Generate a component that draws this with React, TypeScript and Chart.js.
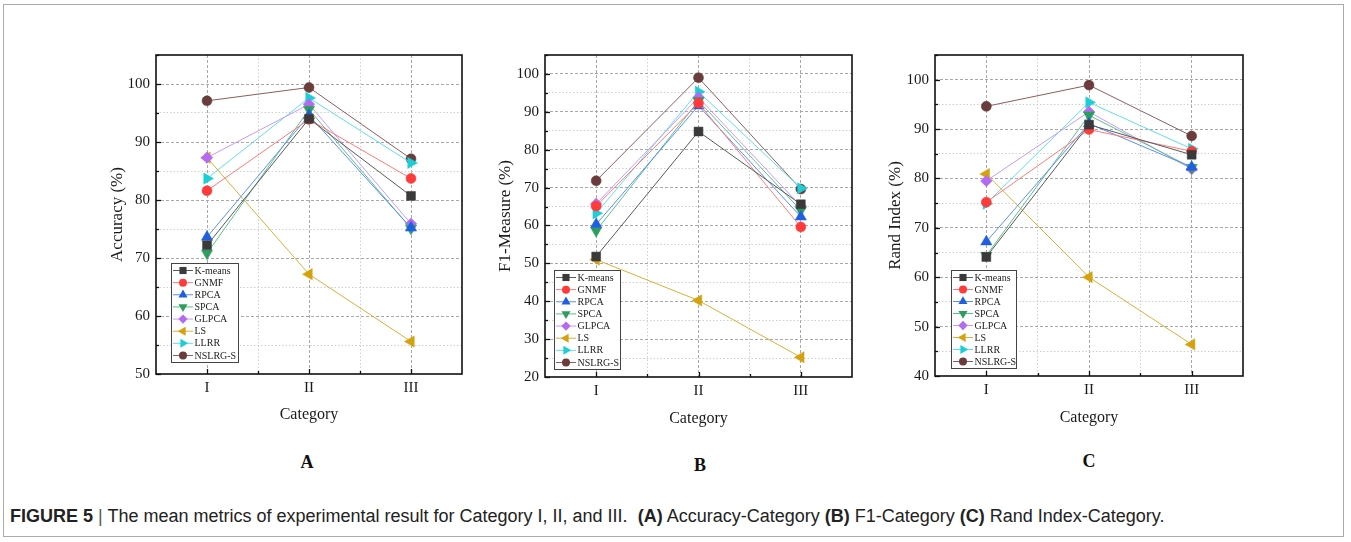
import React, { useEffect, useRef } from "react";
import { Chart, registerables } from "chart.js";
Chart.register(...registerables);

// ---------- data ----------
const categories = ["I", "II", "III"];
const methods = ["K-means", "GNMF", "RPCA", "SPCA", "GLPCA", "LS", "LLRR", "NSLRG-S"];

// rows follow `methods`, columns follow `categories`
const accuracyValues = [
  [72.2, 94.0, 80.7],
  [81.6, 93.9, 83.7],
  [73.6, 94.6, 75.2],
  [70.8, 95.6, 75.1],
  [87.3, 96.5, 75.9],
  [87.3, 67.2, 55.6],
  [83.7, 97.6, 86.4],
  [97.1, 99.4, 87.1],
];
const f1Values = [
  [51.8, 84.8, 65.6],
  [65.1, 92.3, 59.6],
  [60.3, 91.6, 62.3],
  [58.6, 92.9, 64.0],
  [65.7, 93.8, 65.1],
  [51.0, 40.2, 25.2],
  [63.2, 95.3, 69.8],
  [71.8, 99.0, 69.6],
];
const randValues = [
  [64.1, 90.9, 84.8],
  [75.2, 89.9, 85.5],
  [67.2, 91.1, 82.3],
  [64.4, 92.8, 82.2],
  [79.5, 93.5, 81.9],
  [80.9, 60.0, 46.4],
  [74.9, 95.4, 86.0],
  [94.6, 98.9, 88.6],
];

const accuracyTicks = [50, 60, 70, 80, 90, 100];
const f1Ticks = [20, 30, 40, 50, 60, 70, 80, 90, 100];
const randTicks = [40, 50, 60, 70, 80, 90, 100];

// ---------- styles ----------
const markerColors = ["#3a3a3a", "#ff3a3a", "#1f5fe0", "#2e9e5e", "#b36bf0", "#d4a20c", "#1ccfd6", "#6a3c3c"];
const lineColors = ["#5a5a5a", "#ff7a7a", "#5b8ff0", "#5cc08a", "#c89af5", "#d9b038", "#5fe0e6", "#8a5e5e"];
const markerShapes = ["rect", "circle", "triangle", "triangle", "rectRot", "triangle", "triangle", "circle"];
const markerRotations = [0, 0, 0, 180, 0, 270, 90, 0];
const markerRadii = [6.3, 5, 6.5, 6.5, 5.8, 6.5, 6.5, 5];

const SERIF = '"Liberation Serif", "Times New Roman", serif';

function drawMarker(ctx: CanvasRenderingContext2D, shape: string, rot: number, r: number, x: number, y: number) {
  ctx.beginPath();
  if (shape === "circle") {
    ctx.arc(x, y, r, 0, Math.PI * 2);
  } else if (shape === "rect") {
    const s = Math.SQRT1_2 * r;
    ctx.rect(x - s, y - s, 2 * s, 2 * s);
  } else if (shape === "rectRot") {
    ctx.moveTo(x, y - r);
    ctx.lineTo(x + r, y);
    ctx.lineTo(x, y + r);
    ctx.lineTo(x - r, y);
    ctx.closePath();
  } else {
    const base = (rot * Math.PI) / 180;
    for (let k = 0; k < 3; k++) {
      const a = base + (k * 2 * Math.PI) / 3;
      const px = x + Math.sin(a) * r;
      const py = y - Math.cos(a) * r;
      if (k === 0) ctx.moveTo(px, py);
      else ctx.lineTo(px, py);
    }
    ctx.closePath();
  }
  ctx.fill();
}

const frameTicksPlugin = {
  id: "frameTicks",
  afterDatasetsDraw(chart: any) {
    const { ctx, chartArea } = chart;
    const ys = chart.scales.y;
    const xs = chart.scales.x;
    ctx.save();
    ctx.strokeStyle = "#111";
    ctx.lineWidth = 1.3;
    for (let v = ys.min; v <= ys.max; v += 5) {
      const py = Math.round(ys.getPixelForValue(v)) + 0.5;
      const len = v % 10 === 0 ? 5 : 3;
      ctx.beginPath();
      ctx.moveTo(chartArea.left, py);
      ctx.lineTo(chartArea.left + len, py);
      ctx.stroke();
    }
    for (let v = 1; v <= 3; v += 0.5) {
      const px = Math.round(xs.getPixelForValue(v)) + 0.5;
      const len = Number.isInteger(v) ? 5 : 3;
      ctx.beginPath();
      ctx.moveTo(px, chartArea.bottom);
      ctx.lineTo(px, chartArea.bottom - len);
      ctx.stroke();
    }
    ctx.lineWidth = 1.6;
    ctx.strokeRect(chartArea.left, chartArea.top, chartArea.right - chartArea.left, chartArea.bottom - chartArea.top);
    ctx.restore();
  },
};

const insideLegendPlugin = {
  id: "insideLegend",
  afterDraw(chart: any, _args: any, opts: any) {
    const { ctx, chartArea } = chart;
    const x0 = Math.round(chartArea.left + opts.dx) + 0.5;
    const y0 = Math.round(chartArea.bottom - opts.dy - opts.height) + 0.5;
    ctx.save();
    ctx.fillStyle = "#fff";
    ctx.fillRect(x0, y0, opts.width, opts.height);
    ctx.strokeStyle = "#444";
    ctx.lineWidth = 1;
    ctx.strokeRect(x0, y0, opts.width, opts.height);
    ctx.font = `${opts.fontSize}px ${SERIF}`;
    ctx.textBaseline = "middle";
    chart.data.datasets.forEach((ds: any, i: number) => {
      const cy = y0 + 7 + i * opts.spacing;
      ctx.strokeStyle = ds.borderColor;
      ctx.lineWidth = 1;
      ctx.beginPath();
      ctx.moveTo(x0 + 1.5, cy);
      ctx.lineTo(x0 + 21.5, cy);
      ctx.stroke();
      ctx.fillStyle = markerColors[i];
      drawMarker(ctx, markerShapes[i], markerRotations[i], markerRadii[i] * 0.8, x0 + 11.5, cy);
      ctx.fillStyle = "#222";
      ctx.fillText(ds.label, x0 + 23, cy + 0.5);
    });
    ctx.restore();
  },
};

type PanelCfg = {
  left: number;
  top: number;
  width: number;
  height: number;
  yAxisWidth: number;
  padTop: number;
  padRight: number;
  xAxisHeight: number;
  yMin: number;
  yTicks: number[];
  values: number[][];
  yTitle: string;
  yTitlePad: number;
  xTitlePad: number;
  legend: { dx: number; dy: number; width: number; height: number; fontSize: number; spacing: number };
};

function Panel({ cfg }: { cfg: PanelCfg }) {
  const ref = useRef<HTMLCanvasElement | null>(null);
  useEffect(() => {
    if (!ref.current) return;
    const datasets = methods.map((m, i) => ({
      label: m,
      data: cfg.values[i].map((v, j) => ({ x: j + 1, y: v })),
      borderColor: lineColors[i],
      borderWidth: 1,
      pointStyle: markerShapes[i] as any,
      pointRotation: markerRotations[i],
      pointRadius: markerRadii[i],
      pointBackgroundColor: markerColors[i],
      pointBorderColor: markerColors[i],
      pointBorderWidth: 0.5,
      showLine: true,
      tension: 0,
      fill: false,
    }));
    const chart = new Chart(ref.current, {
      type: "line",
      data: { datasets },
      options: {
        animation: false,
        responsive: false,
        events: [],
        layout: { padding: { top: cfg.padTop, right: cfg.padRight, left: 0, bottom: 0 } },
        plugins: {
          legend: { display: false },
          tooltip: { enabled: false },
          insideLegend: cfg.legend,
        } as any,
        scales: {
          x: {
            type: "linear",
            min: 0.5,
            max: 3.5,
            afterFit: (s: any) => {
              s.height = cfg.xAxisHeight;
            },
            ticks: {
              stepSize: 0.5,
              autoSkip: false,
              maxRotation: 0,
              padding: 5,
              color: "#1a1a1a",
              font: { family: SERIF, size: 15 },
              callback: (v: any) => (Number.isInteger(v) ? categories[v - 1] : ""),
            },
            grid: {
              drawTicks: false,
              lineWidth: 1,
              color: (c: any) => {
                const v = c.tick?.value;
                if (v === 0.5 || v === 3.5) return "rgba(0,0,0,0)";
                return Number.isInteger(v) ? "#a8a8a8" : "#cfcfcf";
              },
            },
            border: {
              display: false,
              dash: (c: any) => (Number.isInteger(c.tick?.value) ? [3, 2] : [1.5, 2]),
            } as any,
            title: {
              display: true,
              text: "Category",
              color: "#1a1a1a",
              font: { family: SERIF, size: 16 },
              padding: { top: 0, bottom: cfg.xTitlePad },
            },
          },
          y: {
            type: "linear",
            min: cfg.yMin,
            max: 105,
            afterFit: (s: any) => {
              s.width = cfg.yAxisWidth;
            },
            ticks: {
              stepSize: 5,
              autoSkip: false,
              padding: 6,
              color: "#1a1a1a",
              font: { family: SERIF, size: 15 },
              callback: (v: any) => (cfg.yTicks.includes(v) ? String(v) : ""),
            },
            grid: {
              drawTicks: false,
              lineWidth: 1,
              color: (c: any) => {
                const v = c.tick?.value;
                if (v === 105 || v === cfg.yMin) return "rgba(0,0,0,0)";
                return v % 10 === 0 ? "#a8a8a8" : "#cfcfcf";
              },
            },
            border: {
              display: false,
              dash: (c: any) => (c.tick?.value % 10 === 0 ? [3, 2] : [1.5, 2]),
            } as any,
            title: {
              display: true,
              text: cfg.yTitle,
              color: "#1a1a1a",
              font: { family: SERIF, size: 17 },
              padding: { top: cfg.yTitlePad, bottom: 0 },
            },
          },
        },
      },
      plugins: [frameTicksPlugin, insideLegendPlugin],
    } as any);
    return () => chart.destroy();
  }, [cfg]);
  return (
    <canvas
      ref={ref}
      width={cfg.width}
      height={cfg.height}
      style={{ position: "absolute", left: cfg.left, top: cfg.top, width: cfg.width, height: cfg.height }}
    />
  );
}

const panelA: PanelCfg = {
  left: 90, top: 40, width: 390, height: 400,
  yAxisWidth: 66, padTop: 12, padRight: 18, xAxisHeight: 66,
  yMin: 50, yTicks: accuracyTicks, values: accuracyValues,
  yTitle: "Accuracy (%)", yTitlePad: 17, xTitlePad: 16,
  legend: { dx: 15, dy: 12, width: 67, height: 99, fontSize: 10, spacing: 12.14 },
};
const panelB: PanelCfg = {
  left: 480, top: 40, width: 390, height: 400,
  yAxisWidth: 65, padTop: 13, padRight: 18, xAxisHeight: 63,
  yMin: 20, yTicks: f1Ticks, values: f1Values,
  yTitle: "F1-Measure (%)", yTitlePad: 15, xTitlePad: 12,
  legend: { dx: 9, dy: 8, width: 66, height: 99, fontSize: 10, spacing: 12.14 },
};
const panelC: PanelCfg = {
  left: 870, top: 40, width: 390, height: 400,
  yAxisWidth: 65, padTop: 13, padRight: 17, xAxisHeight: 64,
  yMin: 40, yTicks: randTicks, values: randValues,
  yTitle: "Rand Index (%)", yTitlePad: 15, xTitlePad: 13,
  legend: { dx: 16, dy: 8, width: 65, height: 98, fontSize: 10, spacing: 12.0 },
};

const letterStyle: React.CSSProperties = {
  position: "absolute",
  transform: "translate(-50%, -50%)",
  fontFamily: SERIF,
  fontWeight: "bold",
  fontSize: 18,
  color: "#111",
};

export default function App() {
  return (
    <div style={{ position: "absolute", left: 0, top: 0, width: 1351, height: 542, background: "#fff", overflow: "hidden" }}>
      <div
        style={{
          position: "absolute",
          left: 3,
          top: 4,
          width: 1341,
          height: 533,
          border: "1.5px solid #ababab",
          boxSizing: "border-box",
        }}
      />
      <Panel cfg={panelA} />
      <Panel cfg={panelB} />
      <Panel cfg={panelC} />
      <div style={{ ...letterStyle, left: 307, top: 462 }}>A</div>
      <div style={{ ...letterStyle, left: 700, top: 465 }}>B</div>
      <div style={{ ...letterStyle, left: 1089, top: 461 }}>C</div>
      <div
        style={{
          position: "absolute",
          left: 10,
          top: 505,
          fontFamily: '"Liberation Sans", Arial, sans-serif',
          fontSize: 18,
          lineHeight: "22px",
          color: "#222",
          whiteSpace: "nowrap",
        }}
      >
        <b>FIGURE 5</b> <span style={{ color: "#555" }}>|</span> The mean metrics of experimental result for Category I, II, and III.&nbsp;{" "}
        <b>(A)</b> Accuracy-Category <b>(B)</b> F1-Category <b>(C)</b> Rand Index-Category.
      </div>
    </div>
  );
}
